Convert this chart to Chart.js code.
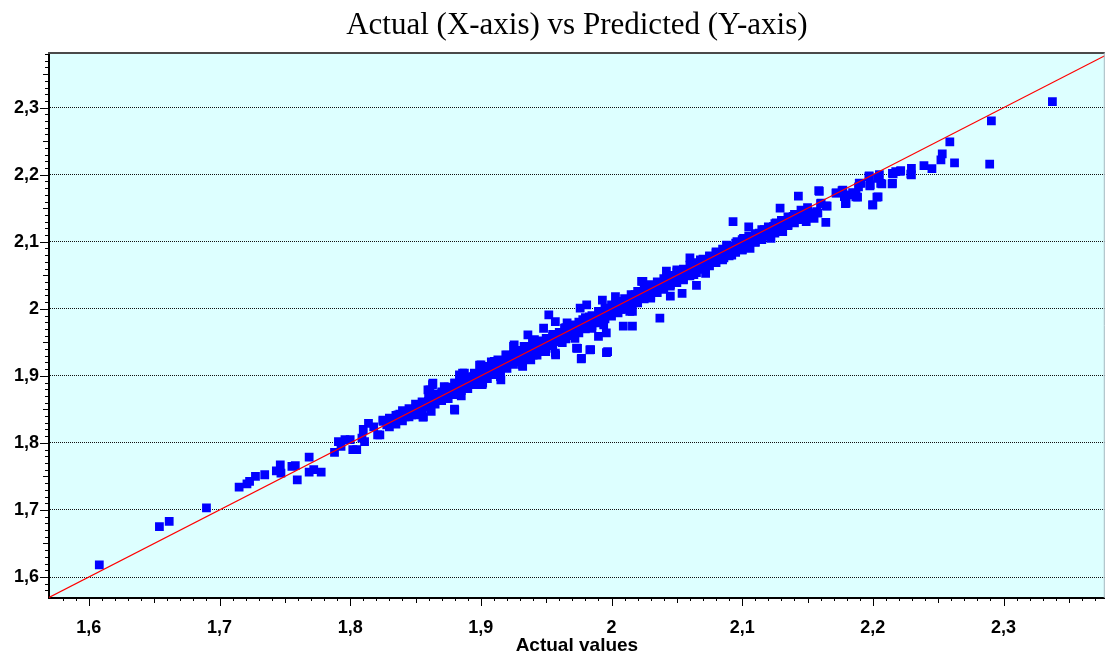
<!DOCTYPE html>
<html>
<head>
<meta charset="utf-8">
<script src="https://cdn.jsdelivr.net/npm/chart.js@4.4.1/dist/chart.umd.min.js"></script>
<style>
  html, body { margin: 0; padding: 0; background: #fff; }
</style>
</head>
<body>
<canvas id="fitChart" width="1111" height="653"></canvas>
<script>
// actual / predicted pairs
const lowTail = [
  [1.608, 1.618], [1.654, 1.675], [1.6615, 1.683], [1.690, 1.703], [1.715, 1.734],
  [1.721, 1.739], [1.723, 1.7425], [1.7275, 1.750], [1.7346, 1.7525], [1.7435, 1.7584],
  [1.7465, 1.7674], [1.747, 1.755], [1.7554, 1.765], [1.758, 1.766], [1.7595, 1.745],
  [1.7686, 1.7789], [1.7686, 1.7565], [1.7721, 1.760], [1.7778, 1.7565]
];

const looseBand = [
  [1.788, 1.786], [1.791, 1.802], [1.793, 1.795], [1.796, 1.805], [1.800, 1.805], [1.802, 1.790],
  [1.805, 1.790], [1.809, 1.807], [1.810, 1.820], [1.811, 1.802], [1.814, 1.829], [1.818, 1.824],
  [1.821, 1.812], [1.825, 1.834], [1.828, 1.827], [1.834, 1.832], [1.838, 1.843], [1.842, 1.839],
  [1.847, 1.842], [1.851, 1.849], [1.853, 1.857], [1.856, 1.839], [1.860, 1.862], [1.861, 1.879],
  [1.863, 1.887], [1.865, 1.867], [1.862, 1.847], [1.868, 1.864], [1.872, 1.884], [1.875, 1.872],
  [1.877, 1.877], [1.880, 1.889], [1.880, 1.849], [1.882, 1.879], [1.885, 1.870], [1.886, 1.904],
  [1.890, 1.897], [1.893, 1.889], [1.894, 1.899], [1.899, 1.916], [1.901, 1.887], [1.903, 1.906],
  [1.908, 1.921], [1.910, 1.909], [1.913, 1.924], [1.915, 1.899], [1.917, 1.914], [1.920, 1.931],
  [1.925, 1.944], [1.928, 1.929], [1.932, 1.914], [1.933, 1.936], [1.936, 1.961], [1.938, 1.944],
  [1.941, 1.954], [1.943, 1.931], [1.948, 1.971], [1.950, 1.949], [1.952, 1.991], [1.955, 1.959],
  [1.957, 1.981], [1.957, 1.934], [1.961, 1.951], [1.964, 1.971], [1.966, 1.979], [1.969, 1.961],
  [1.972, 1.956], [1.974, 1.941], [1.976, 2.001], [1.978, 1.984], [1.977, 1.926], [1.981, 2.006],
  [1.983, 1.988], [1.984, 1.939], [1.985, 1.971], [1.989, 1.988], [1.990, 1.959], [1.993, 2.013],
  [1.994, 1.976], [1.996, 1.964], [1.997, 1.936], [2.000, 1.998], [2.003, 2.018], [2.005, 2.003],
  [2.009, 1.974], [2.012, 2.013], [2.016, 1.996], [2.016, 1.974], [2.018, 2.021], [2.022, 2.023],
  [2.024, 2.041], [1.8227, 1.8121], [1.8252, 1.832], [1.8316, 1.8295], [1.8366, 1.8419],
  [1.8481, 1.8469], [1.8531, 1.8568], [1.8557, 1.8384], [1.8595, 1.8792], [1.8633, 1.8891],
  [1.8671, 1.8643], [1.8722, 1.8817], [1.8798, 1.8504], [1.8836, 1.9015], [1.8874, 1.904],
  [1.8950, 1.899], [1.9001, 1.9164], [1.9014, 1.8891], [1.9103, 1.9214], [1.9153, 1.8941],
  [1.9191, 1.9313], [1.9255, 1.9462], [1.9318, 1.9164], [1.9331, 1.9438], [1.9382, 1.9239],
  [1.9395, 1.9512], [1.9496, 1.9363], [1.9534, 1.9487], [1.9572, 1.9313], [1.9623, 1.9497],
  [1.9732, 1.9413], [1.9768, 1.9254], [1.9834, 1.9388], [1.9961, 1.9348]
];

const upperRun = [
  [2.037, 1.986], [2.045, 2.019], [2.054, 2.023], [2.065, 2.035], [2.072, 2.053], [2.007, 1.999],
  [2.014, 1.996], [2.023, 2.041], [2.030, 2.016], [2.042, 2.056], [2.045, 2.036], [2.050, 2.058],
  [2.055, 2.043], [2.060, 2.076], [2.063, 2.051], [2.068, 2.073], [2.075, 2.078], [2.080, 2.085],
  [2.086, 2.076], [2.088, 2.095], [2.092, 2.080], [2.093, 2.130], [2.096, 2.100], [2.100, 2.088],
  [2.101, 2.105], [2.105, 2.122], [2.106, 2.090], [2.110, 2.100], [2.113, 2.113], [2.117, 2.118],
  [2.122, 2.105], [2.124, 2.123], [2.126, 2.128], [2.129, 2.150], [2.131, 2.115], [2.135, 2.125],
  [2.139, 2.138], [2.143, 2.168], [2.144, 2.138], [2.149, 2.130], [2.152, 2.143], [2.155, 2.135],
  [2.157, 2.145], [2.159, 2.175], [2.160, 2.157], [2.164, 2.129], [2.165, 2.153], [2.172, 2.173],
  [2.177, 2.177], [2.179, 2.157], [2.182, 2.170], [2.187, 2.167], [2.189, 2.182], [2.191, 2.187],
  [2.197, 2.197], [2.198, 2.185], [2.200, 2.155], [2.204, 2.167], [2.206, 2.187], [2.205, 2.200],
  [2.215, 2.187], [2.215, 2.202], [2.221, 2.205], [2.229, 2.201]
];

const highTail = [
  [2.3374, 2.309], [2.2907, 2.2802], [2.2894, 2.2156], [2.2589, 2.2489], [2.2625, 2.2176],
  [2.2531, 2.231], [2.2521, 2.222], [2.2452, 2.2091], [2.2391, 2.2136], [2.2295, 2.2096],
  [2.2295, 2.1997], [2.2213, 2.2061], [2.2175, 2.2047], [2.2155, 2.2012], [2.2147, 2.1863],
  [2.2069, 2.1863], [2.2036, 2.1947], [2.1972, 2.1982], [2.1977, 2.1833], [2.2031, 2.1664],
  [2.1998, 2.155], [2.1896, 2.1873], [2.1871, 2.1724], [2.1883, 2.1664], [2.1845, 2.1734],
  [2.1795, 2.1575], [2.1782, 2.1674], [2.1764, 2.1763], [2.1718, 2.1724], [2.1642, 2.1535],
  [2.1604, 2.1575], [2.1586, 2.1763], [2.1579, 2.1426]
];

// the dense ribbon along the diagonal: three rows per actual value
const bandActual = [
  1.830, 1.835, 1.840, 1.845, 1.850, 1.855, 1.860, 1.865, 1.870, 1.875,
  1.880, 1.885, 1.890, 1.895, 1.900, 1.905, 1.910, 1.915, 1.920, 1.925,
  1.930, 1.935, 1.940, 1.945, 1.950, 1.955, 1.960, 1.965, 1.970, 1.975,
  1.980, 1.985, 1.990, 1.995, 2.000, 2.005, 2.010, 2.015, 2.020, 2.025,
  2.030, 2.035, 2.040, 2.045, 2.050, 2.055, 2.060, 2.065, 2.070, 2.075,
  2.080, 2.085, 2.090, 2.095, 2.100, 2.105, 2.110, 2.115, 2.120, 2.125,
  2.130, 2.135, 2.140, 2.145, 2.150
];
const bandUpper = [
  1.837, 1.841, 1.848, 1.851, 1.858, 1.861, 1.868, 1.873, 1.876, 1.883,
  1.889, 1.892, 1.898, 1.904, 1.907, 1.914, 1.918, 1.922, 1.929, 1.932,
  1.938, 1.941, 1.948, 1.952, 1.956, 1.962, 1.965, 1.972, 1.976, 1.980,
  1.987, 1.990, 1.996, 2.001, 2.006, 2.011, 2.015, 2.021, 2.026, 2.030,
  2.036, 2.040, 2.045, 2.050, 2.055, 2.059, 2.065, 2.069, 2.074, 2.079,
  2.083, 2.089, 2.093, 2.098, 2.103, 2.108, 2.112, 2.118, 2.122, 2.127,
  2.132, 2.137, 2.141, 2.147, 2.151
];
const bandMid = [
  1.831, 1.834, 1.841, 1.846, 1.850, 1.856, 1.861, 1.864, 1.871, 1.875,
  1.880, 1.886, 1.889, 1.896, 1.900, 1.904, 1.911, 1.914, 1.919, 1.925,
  1.929, 1.934, 1.939, 1.944, 1.948, 1.953, 1.959, 1.963, 1.967, 1.973,
  1.978, 1.982, 1.988, 1.993, 1.997, 2.003, 2.007, 2.012, 2.018, 2.022,
  2.027, 2.033, 2.037, 2.042, 2.047, 2.052, 2.057, 2.061, 2.067, 2.071,
  2.077, 2.081, 2.086, 2.092, 2.096, 2.101, 2.106, 2.111, 2.116, 2.121,
  2.126, 2.131, 2.136, 2.141, 2.145
];
const bandLower = [
  1.824, 1.828, 1.833, 1.839, 1.842, 1.848, 1.853, 1.858, 1.863, 1.866,
  1.872, 1.878, 1.881, 1.887, 1.892, 1.896, 1.902, 1.906, 1.911, 1.917,
  1.921, 1.926, 1.931, 1.936, 1.941, 1.945, 1.951, 1.955, 1.960, 1.964,
  1.970, 1.975, 1.979, 1.985, 1.989, 1.994, 1.999, 2.004, 2.009, 2.015,
  2.019, 2.024, 2.029, 2.034, 2.039, 2.044, 2.049, 2.054, 2.059, 2.064,
  2.069, 2.073, 2.079, 2.084, 2.088, 2.093, 2.099, 2.103, 2.108, 2.113,
  2.118, 2.124, 2.128, 2.133, 2.138
];

const xRange = [1.5695, 2.3775];
const yRange = [1.5687, 2.3815];
const tickValues = [1.6, 1.7, 1.8, 1.9, 2.0, 2.1, 2.2, 2.3];
const tickLabels = ['1,6', '1,7', '1,8', '1,9', '2', '2,1', '2,2', '2,3'];

const toXY = ([x, y]) => ({ x, y });
const scatterPoints = [...lowTail, ...looseBand, ...upperRun, ...highTail].map(toXY);
bandActual.forEach((x, i) => {
  scatterPoints.push({ x, y: bandUpper[i] }, { x, y: bandMid[i] }, { x, y: bandLower[i] });
});
const idealLine = xRange.map(v => ({ x: v, y: v }));

const fixedTicks = axis => { axis.ticks = tickValues.map(v => ({ value: v })); };

const plotFrame = {
  id: 'plotFrame',
  beforeDraw(chart) {
    const { ctx, chartArea: a } = chart;
    ctx.save();
    ctx.fillStyle = '#DDFFFF';
    ctx.fillRect(a.left, a.top, a.right - a.left, a.bottom - a.top);
    ctx.restore();
  },
  afterDraw(chart) {
    const { ctx, chartArea: a, scales: { x, y } } = chart;
    ctx.save();
    ctx.strokeStyle = '#000';
    ctx.lineWidth = 1;
    ctx.beginPath();
    // small tick marks every 0.01, longer ones every 0.05 and 0.1
    for (let k = 157; k <= 238; k++) {
      const px = Math.round(x.getPixelForValue(k / 100)) + 0.5;
      if (px < a.left + 2 || px > a.right) continue;
      const len = k % 10 === 0 ? 8 : k % 5 === 0 ? 5 : 3;
      ctx.moveTo(px, a.bottom);
      ctx.lineTo(px, a.bottom + len);
    }
    for (let k = 156; k <= 238; k++) {
      const py = Math.round(y.getPixelForValue(k / 100)) + 0.5;
      if (py < a.top || py > a.bottom - 2) continue;
      const len = k % 10 === 0 ? 9 : k % 5 === 0 ? 6 : 4;
      ctx.moveTo(a.left, py);
      ctx.lineTo(a.left - len, py);
    }
    ctx.stroke();
    ctx.strokeStyle = '#4a4a4a';
    ctx.lineWidth = 2;
    ctx.beginPath();
    ctx.moveTo(a.left - 1, a.top);
    ctx.lineTo(a.right, a.top);
    ctx.stroke();
    ctx.strokeStyle = '#a8b8c0';
    ctx.lineWidth = 1;
    ctx.beginPath();
    ctx.moveTo(a.right - 0.5, a.top);
    ctx.lineTo(a.right - 0.5, a.bottom);
    ctx.stroke();
    ctx.restore();
  }
};

new Chart(document.getElementById('fitChart'), {
  type: 'scatter',
  data: {
    datasets: [
      {
        type: 'line',
        data: idealLine,
        borderColor: '#FF0000',
        borderWidth: 1.2,
        pointRadius: 0,
        fill: false,
        order: 0
      },
      {
        data: scatterPoints,
        pointStyle: 'rect',
        pointRadius: 6.2,
        backgroundColor: '#0000FF',
        borderWidth: 0,
        order: 1
      }
    ]
  },
  options: {
    responsive: false,
    animation: false,
    devicePixelRatio: 1,
    layout: { padding: { right: 1 } },
    plugins: {
      legend: { display: false },
      tooltip: { enabled: false },
      title: {
        display: true,
        fullSize: false,
        text: 'Actual (X-axis) vs Predicted (Y-axis)',
        color: '#000',
        font: { family: '"Liberation Serif", "Times New Roman", serif', size: 31, weight: 'normal', lineHeight: 1.2 },
        padding: { top: 7, bottom: 8.8 }
      }
    },
    scales: {
      x: {
        type: 'linear',
        min: xRange[0],
        max: xRange[1],
        afterBuildTicks: fixedTicks,
        afterFit: s => { s.height = 55; },
        grid: { display: false },
        border: { display: true, color: '#000', width: 2 },
        ticks: {
          callback: (v, i) => tickLabels[i],
          color: '#000',
          padding: 11,
          maxRotation: 0,
          font: { family: '"Liberation Sans", Arial, sans-serif', size: 18, weight: 'bold' }
        },
        title: {
          display: true,
          text: 'Actual values',
          color: '#000',
          padding: 0,
          font: { family: '"Liberation Sans", Arial, sans-serif', size: 19, weight: 'bold', lineHeight: 0.8 }
        }
      },
      y: {
        type: 'linear',
        min: yRange[0],
        max: yRange[1],
        afterBuildTicks: fixedTicks,
        afterFit: s => { s.width = 49; },
        grid: { color: '#111', lineWidth: 1, drawTicks: false },
        border: { display: true, color: '#000', width: 2, dash: [1, 1] },
        ticks: {
          callback: (v, i) => tickLabels[i],
          color: '#000',
          padding: 10,
          font: { family: '"Liberation Sans", Arial, sans-serif', size: 18, weight: 'bold' }
        }
      }
    }
  },
  plugins: [plotFrame]
});
</script>
</body>
</html>
